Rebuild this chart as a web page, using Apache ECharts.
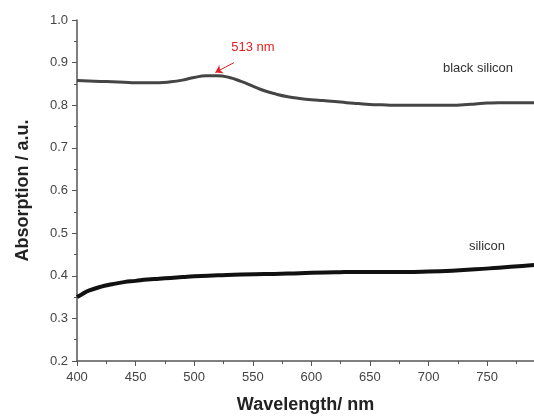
<!DOCTYPE html>
<html>
<head>
<meta charset="utf-8">
<script src="https://cdn.jsdelivr.net/npm/echarts@6/dist/echarts.min.js"></script>
<style>
  html, body { margin: 0; padding: 0; background: #fff; }
  #main { width: 534px; height: 416px; }
</style>
</head>
<body>
<div id="main"></div>
<script>
// absorption spectra, black silicon vs. silicon
var blackX = [400, 410, 420, 430, 440, 450, 460, 470, 480, 490, 500, 510, 520, 530, 540, 550, 560, 570, 580, 590,
              600, 610, 620, 630, 640, 650, 660, 670, 680, 690, 700, 710, 720, 730, 740, 750, 760, 770, 780, 790];
var blackY = [0.858, 0.857, 0.856, 0.855, 0.854, 0.853, 0.853, 0.853, 0.855, 0.859, 0.865, 0.869, 0.869, 0.865, 0.856, 0.845, 0.834, 0.826, 0.820, 0.816,
              0.813, 0.811, 0.809, 0.806, 0.804, 0.802, 0.801, 0.800, 0.800, 0.800, 0.800, 0.800, 0.800, 0.801, 0.803, 0.805, 0.806, 0.806, 0.806, 0.806];
var siX = [400, 405, 410, 420, 430, 440, 450, 460, 470, 480, 490, 500, 520, 540, 560, 580, 600, 620, 640, 660, 680, 700, 720, 740, 760, 780, 790];
var siY = [0.350, 0.358, 0.365, 0.374, 0.380, 0.385, 0.388, 0.391, 0.393, 0.395, 0.397, 0.399, 0.401, 0.403, 0.404, 0.405, 0.407, 0.408, 0.409, 0.409, 0.409, 0.410, 0.412, 0.415, 0.419, 0.423, 0.425];

function zip(xs, ys) {
    var out = [];
    for (var i = 0; i < xs.length; i++) out.push([xs[i], ys[i]]);
    return out;
}

var axisColor = '#555';
var labelStyle = { color: '#444', fontSize: 13, fontFamily: 'Liberation Sans' };
var nameStyle = { color: '#222', fontSize: 18, fontWeight: 'bold', fontFamily: 'Liberation Sans' };

var myChart = echarts.init(document.getElementById('main'));
var option = {
    backgroundColor: '#fff',
    animation: false,
    grid: { left: 77, right: 0, top: 20, bottom: 55, containLabel: false, outerBoundsMode: 'none' },
    xAxis: {
        type: 'value',
        min: 400, max: 790, interval: 50,
        name: 'Wavelength/ nm',
        nameLocation: 'middle',
        nameGap: 35,
        nameTextStyle: nameStyle,
        axisLine: { show: true, lineStyle: { color: axisColor, width: 1.5 } },
        axisTick: { show: true, length: 5, lineStyle: { color: axisColor } },
        minorTick: { show: true, splitNumber: 2, length: 3, lineStyle: { color: axisColor } },
        axisLabel: Object.assign({ showMaxLabel: false, margin: 10 }, labelStyle),
        splitLine: { show: false }
    },
    yAxis: {
        type: 'value',
        min: 0.2, max: 1.0, interval: 0.1,
        name: 'Absorption / a.u.',
        nameLocation: 'middle',
        nameGap: 45,
        nameTextStyle: nameStyle,
        axisLine: { show: true, lineStyle: { color: axisColor, width: 1.5 } },
        axisTick: { show: true, length: 5, lineStyle: { color: axisColor } },
        minorTick: { show: true, splitNumber: 2, length: 3, lineStyle: { color: axisColor } },
        axisLabel: Object.assign({ margin: 9, formatter: function (v) { return v.toFixed(1); } }, labelStyle),
        splitLine: { show: false }
    },
    series: [
        {
            name: 'black silicon',
            type: 'line',
            smooth: true,
            symbol: 'none',
            lineStyle: { color: '#454545', width: 3 },
            data: zip(blackX, blackY),
            markLine: {
                silent: true,
                symbol: ['none', 'arrow'],
                symbolSize: 7,
                label: { show: false },
                lineStyle: { color: '#e02020', width: 1, type: 'solid' },
                data: [[{ coord: [534, 0.900] }, { coord: [518, 0.877] }]]
            }
        },
        {
            name: 'silicon',
            type: 'line',
            smooth: true,
            symbol: 'none',
            lineStyle: { color: '#111', width: 4 },
            data: zip(siX, siY)
        }
    ],
    graphic: [
        { type: 'text', x: 253, y: 47, style: { text: '513 nm', fill: '#e02020', font: '13px "Liberation Sans"', align: 'center', verticalAlign: 'middle' } },
        { type: 'text', x: 478, y: 68, style: { text: 'black silicon', fill: '#333', font: '13px "Liberation Sans"', align: 'center', verticalAlign: 'middle' } },
        { type: 'text', x: 487, y: 246, style: { text: 'silicon', fill: '#333', font: '13px "Liberation Sans"', align: 'center', verticalAlign: 'middle' } }
    ]
};
myChart.setOption(option);
</script>
</body>
</html>
